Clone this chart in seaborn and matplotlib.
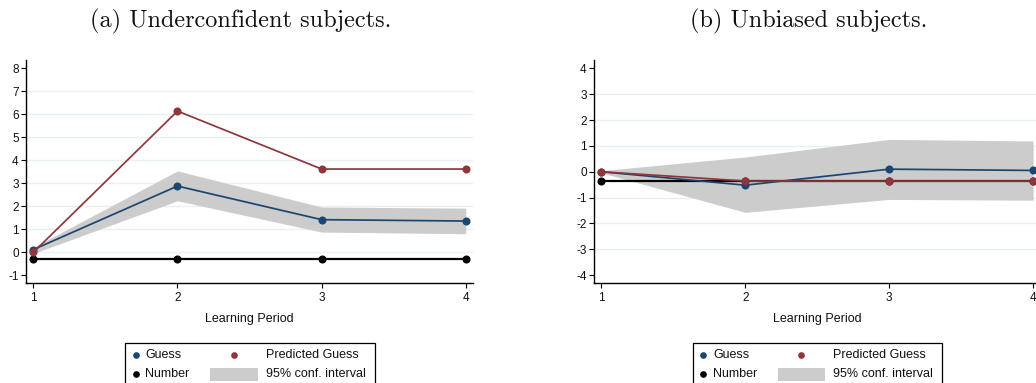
import numpy as np
import pandas as pd
import matplotlib
matplotlib.use("Agg")
import matplotlib.pyplot as plt
from matplotlib.lines import Line2D
from matplotlib.patches import Rectangle
import seaborn as sns

# ---------------- data ----------------
periods = [1, 2, 3, 4]

# (a) Underconfident subjects
a_guess = [0.12, 2.88, 1.42, 1.36]
a_pred = [0.0, 6.14, 3.62, 3.62]
a_number = [-0.28, -0.28, -0.28, -0.28]
a_ci_low = [-0.05, 2.24, 0.88, 0.81]
a_ci_high = [0.22, 3.54, 1.97, 1.92]
a_yticks = [-1, 0, 1, 2, 3, 4, 5, 6, 7, 8]

# (b) Unbiased subjects
b_guess = [0.0, -0.52, 0.10, 0.05]
b_pred = [0.0, -0.36, -0.36, -0.36]
b_number = [-0.36, -0.36, -0.36, -0.36]
b_ci_low = [-0.04, -1.57, -1.07, -1.10]
b_ci_high = [0.04, 0.57, 1.25, 1.19]
b_yticks = [-4, -3, -2, -1, 0, 1, 2, 3, 4]

titles = ["(a) Underconfident subjects.", "(b) Unbiased subjects."]
xlabel = "Learning Period"
legend_labels = ["Guess", "Predicted Guess", "Number", "95% conf. interval"]

# ---------------- style ----------------
sns.set_style("white")
plt.rcParams["font.family"] = ["Liberation Sans", "DejaVu Sans"]
plt.rcParams["axes.unicode_minus"] = False

NAVY = "#1a476f"
MAROON = "#90353b"
CIGRAY = "#cccccc"
GRID = "#e8f0f1"

W, H = 1036, 383
fig = plt.figure(figsize=(W / 100, H / 100), dpi=100)

def fx(px):
    return px / W

def fy(py):
    return 1 - py / H

top_px, bot_px = 60, 282.7
axes_specs = [
    dict(x0=25.7, x1=473.0, ylim=(-1.32, 8.36), yticks=a_yticks,
         guess=a_guess, pred=a_pred, number=a_number, lo=a_ci_low, hi=a_ci_high,
         title_x=241, leg_left=125),
    dict(x0=593.7, x1=1040.3, ylim=(-4.29, 4.32), yticks=b_yticks,
         guess=b_guess, pred=b_pred, number=b_number, lo=b_ci_low, hi=b_ci_high,
         title_x=808.7, leg_left=692.7),
]

MS = 5.8
for i, spec in enumerate(axes_specs):
    ax = fig.add_axes([fx(spec["x0"]), fy(bot_px), fx(spec["x1"] - spec["x0"]),
                       (bot_px - top_px) / H])
    df = pd.DataFrame({"period": periods, "guess": spec["guess"],
                       "pred": spec["pred"], "number": spec["number"]})
    ax.fill_between(periods, spec["lo"], spec["hi"], color=CIGRAY, lw=0, zorder=1)
    sns.lineplot(data=df, x="period", y="number", ax=ax, color="black", lw=1.6,
                 marker="o", markersize=MS, markeredgewidth=0, zorder=3)
    sns.lineplot(data=df, x="period", y="guess", ax=ax, color=NAVY, lw=1.25,
                 marker="o", markersize=MS, markeredgewidth=0, zorder=4)
    sns.lineplot(data=df, x="period", y="pred", ax=ax, color=MAROON, lw=1.25,
                 marker="o", markersize=MS, markeredgewidth=0, zorder=5)

    ax.set_xlim(0.947, 4.05)
    ax.set_ylim(*spec["ylim"])
    ax.set_xticks(periods)
    ax.set_xticklabels([str(p) for p in periods])
    yt = spec["yticks"]
    ax.set_yticks(yt)
    ax.set_yticklabels([str(v) for v in yt])
    for v in yt[1:-1]:
        ax.axhline(v, color=GRID, lw=1.0, zorder=0)

    for s in ["top", "right"]:
        ax.spines[s].set_visible(False)
    for s in ["left", "bottom"]:
        ax.spines[s].set_color("black")
        ax.spines[s].set_linewidth(1.0)
    ax.tick_params(axis="both", which="major", direction="out", length=3.5,
                   width=0.8, color="black", labelsize=8.5, labelcolor="#111111",
                   left=True, bottom=True)
    ax.tick_params(axis="y", pad=1.5)
    ax.tick_params(axis="x", pad=3.5)
    ax.set_ylabel("")
    ax.set_xlabel(xlabel, fontsize=9, color="#111111")
    ax.xaxis.set_label_coords(0.5, -(319 - bot_px) / (bot_px - top_px))
    ax.xaxis.label.set_va("center")
    ax.set_facecolor("white")

    # title (caption)
    fig.text(fx(spec["title_x"]), fy(21.5), titles[i], family="cmr10",
             fontsize=17.5, ha="center", va="center", color="#111111")

    # legend (manual, Stata-style)
    L = spec["leg_left"]
    fig.add_artist(Rectangle((fx(L), fy(388)), fx(249.5), (388 - 343) / H,
                             transform=fig.transFigure, fill=False,
                             edgecolor="black", lw=0.9, clip_on=False))
    r1, r2 = 355.0, 374.0
    for (mx, my, col) in [(L + 10.5, r1, NAVY), (L + 108.5, r1, MAROON),
                          (L + 10.5, r2, "black")]:
        fig.add_artist(Line2D([fx(mx)], [fy(my)], marker="o", markersize=4.8,
                              markeredgewidth=0, color=col,
                              transform=fig.transFigure, linestyle="none"))
    fig.add_artist(Rectangle((fx(L + 85), fy(380.7)), fx(47.5), 13 / H,
                             transform=fig.transFigure, facecolor=CIGRAY,
                             edgecolor="none"))
    for (tx, ty, txt) in [(L + 20.5, r1, legend_labels[0]),
                          (L + 140.5, r1, legend_labels[1]),
                          (L + 20.5, r2, legend_labels[2]),
                          (L + 140.5, r2, legend_labels[3])]:
        fig.text(fx(tx), fy(ty), txt, fontsize=9, ha="left", va="center",
                 color="#111111")

fig.savefig("out.png", dpi=100, facecolor="white")
